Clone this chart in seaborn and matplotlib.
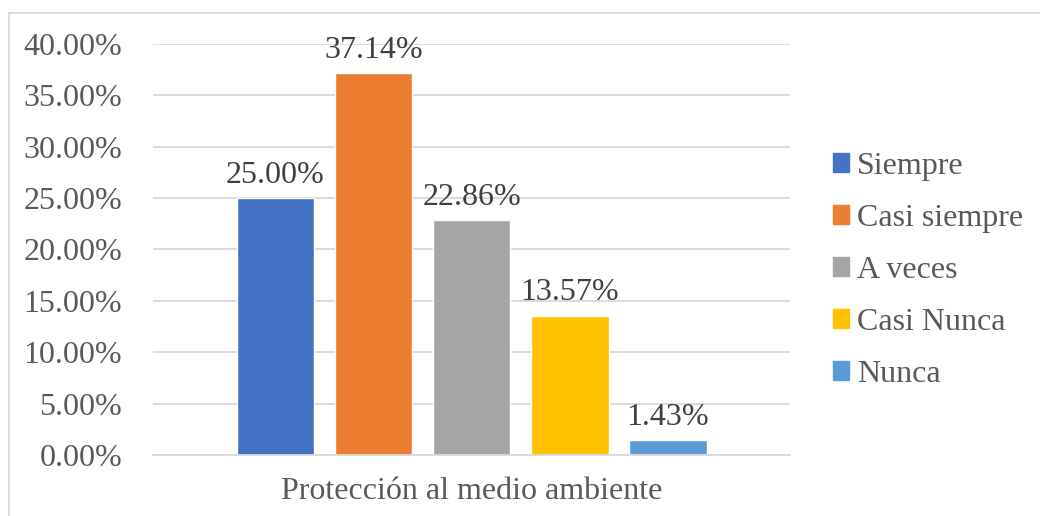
import pandas as pd
import matplotlib.pyplot as plt
import matplotlib.patches as mpatches
import seaborn as sns

# Values
categories = ['Siempre', 'Casi siempre', 'A veces', 'Casi Nunca', 'Nunca']
values = [0.25, 0.3714, 0.2286, 0.1357, 0.0143]
group = 'Protección al medio ambiente'
colors = ['#4472C4', '#ED7D31', '#A5A5A5', '#FFC000', '#5B9BD5']

df = pd.DataFrame({'grupo': [group] * len(categories),
                   'respuesta': categories,
                   'porcentaje': values})

sns.set_style('white')
plt.rcParams['font.family'] = ['Liberation Serif', 'DejaVu Serif']
text_color = '#595959'

fig = plt.figure(figsize=(10.4, 5.16), dpi=100)
ax = fig.add_axes([0.147, 0.118, 0.613, 0.797])

sns.barplot(data=df, x='grupo', y='porcentaje', hue='respuesta',
            hue_order=categories, palette=colors, width=0.77, gap=0.21,
            saturation=1, ax=ax, legend=False)

ax.set_ylim(0, 0.40)
ax.set_xlim(-0.5, 0.5)
ax.set_yticks([i * 0.05 for i in range(9)])
ax.set_yticklabels([f'{i * 5:.2f}%' for i in range(9)])
ax.grid(axis='y', color='#d9d9d9', linewidth=1.3)
ax.set_axisbelow(True)
for s in ['top', 'right', 'left']:
    ax.spines[s].set_visible(False)
ax.spines['bottom'].set_color('#d9d9d9')
ax.spines['bottom'].set_linewidth(1.3)
ax.tick_params(axis='y', length=0, pad=22, labelsize=23, labelcolor=text_color)
ax.tick_params(axis='x', length=0, pad=16, labelsize=23, labelcolor=text_color)
ax.set_xlabel('')
ax.set_ylabel('')

for cont in ax.containers:
    ax.bar_label(cont, labels=[f'{v * 100:.2f}%' for v in cont.datavalues],
                 padding=6, fontsize=23, color='#404040')

handles = [mpatches.Patch(color=c, label=l) for c, l in zip(colors, categories)]
fig.legend(handles=handles, loc='center left', bbox_to_anchor=(0.801, 0.476),
           frameon=False, fontsize=23, labelcolor=text_color,
           handlelength=0.5, handleheight=0.5, handletextpad=0.25,
           labelspacing=0.72, borderaxespad=0, borderpad=0)

# light border around the chart area
fig.patches.append(mpatches.Rectangle((9 / 1040, -0.1), 1.2, 1 - 13 / 516 + 0.1,
                                      transform=fig.transFigure, fill=False,
                                      edgecolor='#d9d9d9', linewidth=1.3))

fig.savefig('out.png', dpi=100)
